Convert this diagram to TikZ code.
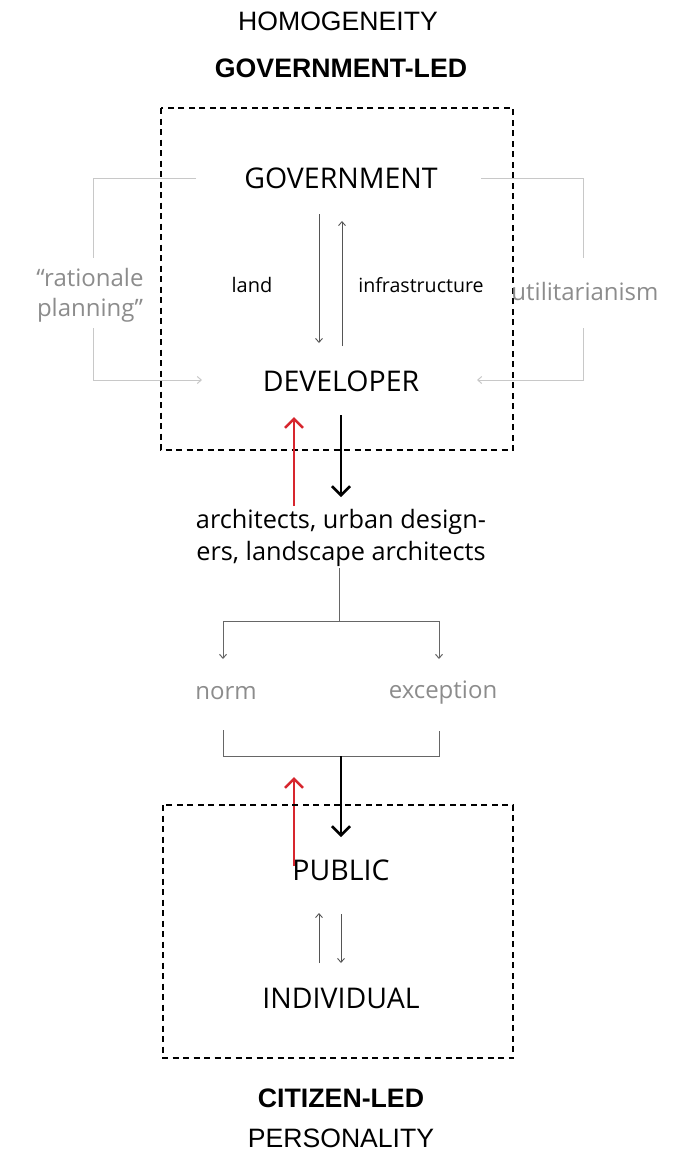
\documentclass[tikz,border=0pt]{standalone}
\usepackage{fontspec}
\setmainfont{Open Sans}
\newfontfamily\helv{Liberation Sans}
\usetikzlibrary{arrows.meta}
\definecolor{txtgray}{HTML}{8C8C8C}
\definecolor{brgray}{HTML}{C8C8C8}
\definecolor{arrgray}{HTML}{555555}
\definecolor{myred}{HTML}{D7262E}
\newcommand{\fs}[2]{\fontsize{#1pt}{#2pt}\selectfont}
\tikzset{
  x=1pt,y=-1pt,
  lbl/.style={inner sep=0pt,anchor=center},
  big/.style={lbl,font=\fs{28.5}{34}},
  dbox/.style={draw=black,line width=2pt,dash pattern=on 6pt off 4.5pt},
  thinarr/.style={draw=arrgray,line width=0.9pt,-{Straight Barb[length=4pt,width=7pt]}},
  brline/.style={draw=brgray,line width=1pt},
  brarr/.style={brline,-{Straight Barb[length=4pt,width=7pt]}},
  thickarr/.style={draw=black,line width=2.5pt,-{Straight Barb[length=9pt,width=18pt,line width=2.5pt]}},
  redarr/.style={draw=myred,line width=2.5pt,-{Straight Barb[length=9pt,width=18pt,line width=2.5pt]}},
  grline/.style={draw=arrgray!90,line width=1pt},
  grarr/.style={grline,-{Straight Barb[length=4pt,width=7pt]}},
  title/.style={lbl,font=\helv\fs{26.6}{32}},
  btitle/.style={lbl,font=\helv\bfseries\fs{26.7}{32}},
}
\begin{document}
\begin{tikzpicture}
\useasboundingbox (0,0) rectangle (687,1152);
% titles
\node[title] (homog) at (338,21) {HOMOGENEITY};
\node[btitle] (govled) at (341,68) {GOVERNMENT-LED};
% top box
\draw[dbox] (161,108) rectangle (513,450);
\node[big] (gov) at (341,178) {GOVERNMENT};
\node[big] (dev) at (341,381) {DEVELOPER};
\node[lbl,font=\fs{20}{24}] (land) at (252,285) {land};
\node[lbl,font=\fs{19.6}{24}] (infra) at (421,285) {infrastructure};
\coordinate (l1) at (319,214); \coordinate (l2) at (319,343);
\coordinate (i1) at (342,346); \coordinate (i2) at (342,221);
\draw[thinarr] (l1) -- (l2);
\draw[thinarr] (i1) -- (i2);
% left bracket
\node[lbl,font=\fs{24}{30},text=txtgray,align=center] (rat) at (90,295.5) {“rationale\\planning”};
\coordinate (lb1) at (196,178); \coordinate (lb2) at (93,178); \coordinate (lb3) at (93,258);
\coordinate (lb4) at (93,328); \coordinate (lb5) at (93,380); \coordinate (lb6) at (202,380);
\draw[brline] (lb1) -- (lb2) -- (lb3);
\draw[brarr] (lb4) -- (lb5) -- (lb6);
% right bracket
\node[lbl,font=\fs{24}{29},text=txtgray] (util) at (585,291) {utilitarianism};
\coordinate (rb1) at (481,178); \coordinate (rb2) at (583,178); \coordinate (rb3) at (583,258);
\coordinate (rb4) at (583,328); \coordinate (rb5) at (583,380); \coordinate (rb6) at (477,380);
\draw[brline] (rb1) -- (rb2) -- (rb3);
\draw[brarr] (rb4) -- (rb5) -- (rb6);
% middle
\node[lbl,font=\fs{25.3}{32},align=center] (arch) at (341,538) {architects, urban design-\\ers, landscape architects};
\coordinate (r1a) at (294,506); \coordinate (r1b) at (294,417);
\coordinate (k1a) at (341,415); \coordinate (k1b) at (341,497);
\draw[redarr] (r1a) -- (r1b);
\draw[thickarr] (k1a) -- (k1b);
% split
\coordinate (s0) at (339,568); \coordinate (s1) at (339,621);
\coordinate (sl) at (223,621); \coordinate (sr) at (439,621);
\coordinate (sla) at (223,659); \coordinate (sra) at (439,659);
\draw[grline] (s0) -- (s1);
\draw[grarr] (s1) -- (sl) -- (sla);
\draw[grarr] (s1) -- (sr) -- (sra);
\node[lbl,font=\fs{24}{29},text=txtgray] (norm) at (226,693) {norm};
\node[lbl,font=\fs{24}{29},text=txtgray] (exc) at (443,693) {exception};
\coordinate (j1) at (223,730); \coordinate (j2) at (223,756);
\coordinate (j3) at (439,756); \coordinate (j4) at (439,731);
\draw[grline] (j1) -- (j2) -- (j3) -- (j4);
% lower arrows
\coordinate (k2a) at (341,756); \coordinate (k2b) at (341,837);
\coordinate (r2a) at (294,866); \coordinate (r2b) at (294,777);
\draw[thickarr] (k2a) -- (k2b);
\draw[redarr] (r2a) -- (r2b);
% lower box
\draw[dbox] (163,805) rectangle (513,1058);
\node[big] (pub) at (341,870) {PUBLIC};
\node[big] (ind) at (341,998) {INDIVIDUAL};
\coordinate (p1) at (319,963); \coordinate (p2) at (319,913);
\coordinate (p3) at (341,914); \coordinate (p4) at (341,963);
\draw[thinarr] (p1) -- (p2);
\draw[thinarr] (p3) -- (p4);
% bottom titles
\node[btitle] (citled) at (341,1098) {CITIZEN-LED};
\node[title] (pers) at (341,1138.5) {PERSONALITY};
\end{tikzpicture}
\end{document}
